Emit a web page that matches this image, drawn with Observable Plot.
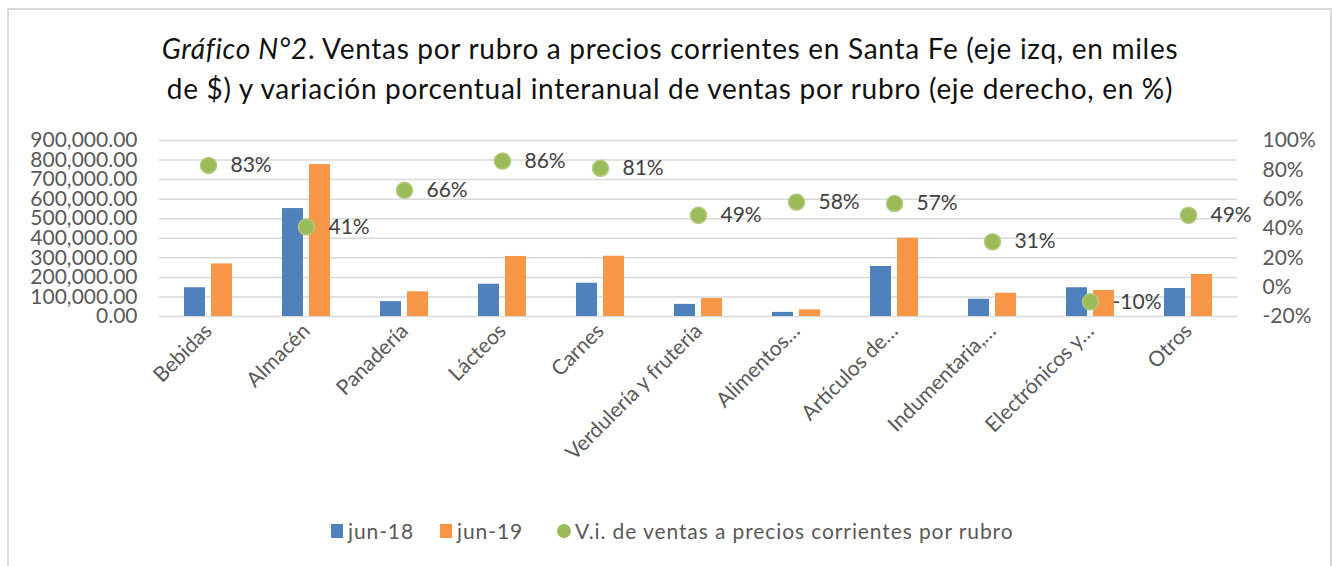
<!DOCTYPE html>
<html><head><meta charset="utf-8">
<script src="https://cdn.jsdelivr.net/npm/d3@7"></script>
<script src="https://cdn.jsdelivr.net/npm/@observablehq/plot@0.6"></script>
<style>
body{margin:0;background:#fff;}
#wrap{position:relative;width:1332px;height:566px;overflow:hidden;font-family:Lato,sans-serif;background:#fff;}
#frame{position:absolute;left:7px;top:8px;width:1325px;height:620px;border:2px solid #d9d9d9;box-sizing:border-box;}
#title{position:absolute;left:0;width:1340px;top:28px;text-align:center;font-size:28px;letter-spacing:0.7px;line-height:40px;color:#111;}
.chart{position:absolute;left:0;top:120px;}
#legend{position:absolute;left:331px;top:518px;display:flex;align-items:center;font-size:21px;letter-spacing:0.9px;color:#595959;}
#legend .it{display:flex;align-items:center;}
#legend .sq{width:12px;height:14px;margin-right:5px;}
#legend .ci{width:14px;height:14px;border-radius:50%;margin-right:4px;}
</style></head>
<body>
<div id="wrap">
  <div id="frame"></div>
  <div id="title"><i>Gráfico N°2</i>. Ventas por rubro a precios corrientes en Santa Fe (eje izq, en miles<br>de $) y variación porcentual interanual de ventas por rubro (eje derecho, en %)</div>
  <div id="c1" class="chart"></div>
  <div id="c2" class="chart"></div>
  <div id="legend"></div>
</div>
<script>
const categorias = ["Bebidas","Almacén","Panadería","Lácteos","Carnes","Verdulería y frutería","Alimentos…","Artículos de…","Indumentaria,…","Electrónicos y…","Otros"];
const series = ["jun-18","jun-19"];
const jun18 = [147000,552000,76000,165000,170000,62000,21000,256000,88000,147000,143000];
const jun19 = [269000,777000,126000,307000,308000,92000,34000,400000,119000,133000,215000];
const variacion = [83,41,66,86,81,49,58,57,31,-10,49];
const variacionNombre = "V.i. de ventas a precios corrientes por rubro";
const leftTicks = [0,100000,200000,300000,400000,500000,600000,700000,800000,900000];
const rightTicks = [-20,0,20,40,60,80,100];
const colores = ["#4F81BD","#F79646"];
const verde = "#9BBB59";

const W=1332, H=400, mL=157, mR=94, mT=20, mB=204;

const rows = categorias.flatMap((c,i)=>[
  {cat:c, serie:series[0], v:jun18[i]},
  {cat:c, serie:series[1], v:jun19[i]}
]);
const vrows = categorias.map((c,i)=>({cat:c, v:variacion[i]}));

const p1 = Plot.plot({
  width:W, height:H, marginLeft:mL, marginRight:mR, marginTop:mT, marginBottom:mB,
  style:{fontFamily:"Lato, sans-serif", background:"none", color:"#595959"},
  fx:{domain:categorias, padding:0, label:null},
  x:{domain:series, paddingInner:0.214, paddingOuter:0.862, axis:null},
  y:{domain:[0,900000], axis:null},
  color:{domain:series, range:colores},
  marks:[
    Plot.ruleY(leftTicks,{stroke:"#d9d9d9", strokeWidth:1.5}),
    Plot.barY(rows,{fx:"cat", x:"serie", y:"v", fill:"serie"}),
    Plot.axisY({ticks:leftTicks, tickFormat:d3.format(",.2f"), tickSize:0, tickPadding:22, fontSize:21, label:null}),
    Plot.axisFx({anchor:"bottom", tickRotate:-45, tickSize:0, tickPadding:11, fontSize:21, label:null})
  ]
});
document.getElementById("c1").appendChild(p1);

const p2 = Plot.plot({
  width:W, height:H, marginLeft:mL, marginRight:mR, marginTop:mT, marginBottom:mB,
  style:{fontFamily:"Lato, sans-serif", background:"none", color:"#595959"},
  x:{type:"point", domain:categorias, padding:0.5, axis:null},
  y:{domain:[-20,100], axis:null},
  marks:[
    Plot.dot(vrows,{x:"cat", y:"v", r:8, fill:verde, stroke:"#B0C97C", strokeWidth:1.5}),
    Plot.text(vrows,{x:"cat", y:"v", text:d=>d.v+"%", dx:22, textAnchor:"start", fontSize:21, fill:"#404040"}),
    Plot.axisY({anchor:"right", ticks:rightTicks, tickFormat:d=>d+"%", tickSize:0, tickPadding:24, fontSize:21, label:null})
  ]
});
document.getElementById("c2").appendChild(p2);

const lg = document.getElementById("legend");
const gaps = [26, 34, 0];
series.forEach((s,i)=>{
  const it = document.createElement("div"); it.className="it"; it.style.marginRight = gaps[i]+"px";
  it.innerHTML = `<span class="sq" style="background:${colores[i]}"></span><span>${s}</span>`;
  lg.appendChild(it);
});
const it3 = document.createElement("div"); it3.className="it";
it3.innerHTML = `<span class="ci" style="background:${verde}"></span><span>${variacionNombre}</span>`;
lg.appendChild(it3);
</script>
</body></html>
